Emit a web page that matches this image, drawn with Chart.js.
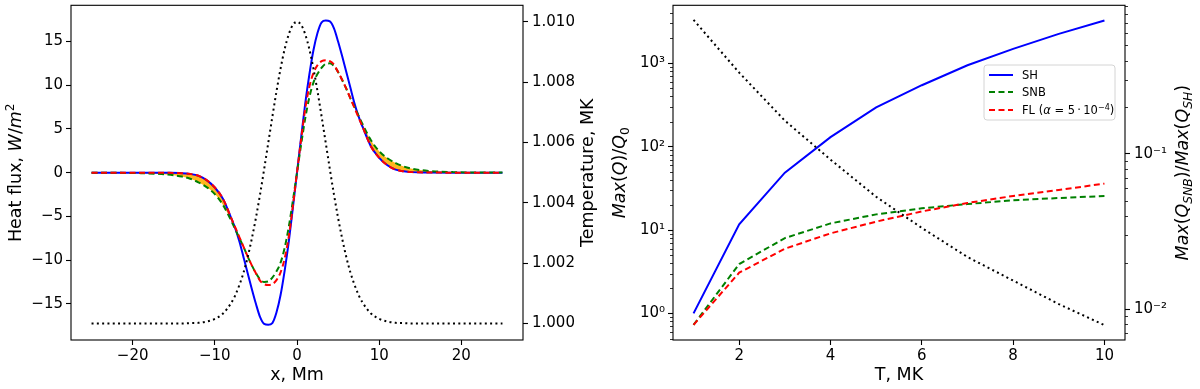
<!DOCTYPE html>
<html>
<head>
<meta charset="utf-8">
<script src="https://cdn.jsdelivr.net/npm/chart.js@4.4.1/dist/chart.umd.min.js"></script>
<style>
html, body { margin: 0; padding: 0; background: #fff; }
#wrap { position: relative; width: 1200px; height: 389px; }
canvas { position: absolute; top: 0; }
#fluxChart { left: 0; }
#ratioChart { left: 600px; }
</style>
</head>
<body>
<div id="wrap">
<canvas id="fluxChart" width="600" height="389"></canvas>
<canvas id="ratioChart" width="600" height="389"></canvas>
</div>
<script>
// Left panel: heat flux profiles along x (Mm)
const xMm = [-25, -22, -19, -16, -14, -13, -12, -11, -10, -9, -8, -7.5, -7, -6.5, -6, -5.5, -5, -4.5, -4, -3.5, -3, -2.5, -2, -1.5, -1, -0.5,
    0, 0.5, 1, 1.5, 2, 2.5, 3, 3.5, 4, 4.5, 5, 5.5, 6, 6.5, 7, 7.5, 8, 9, 10, 11, 12, 13, 14, 16, 19, 22, 25];
const shFlux = [0, 0, 0, -0.02, -0.06, -0.15, -0.35, -0.85, -1.7, -3.0, -5.2, -6.4, -7.9, -9.7, -11.5, -13.3, -15.0, -16.5, -17.3, -17.4, -17.2, -16.0, -14.0, -11.2, -7.9, -4.0,
    0, 4.0, 7.9, 11.2, 14.0, 16.0, 17.2, 17.4, 17.3, 16.5, 15.0, 13.3, 11.5, 9.7, 7.9, 6.4, 5.2, 3.0, 1.7, 0.85, 0.35, 0.15, 0.06, 0.02, 0, 0, 0];
const snbFlux = [-0.01, -0.02, -0.06, -0.2, -0.45, -0.7, -1.1, -1.65, -2.45, -3.7, -5.5, -6.5, -7.5, -8.5, -9.6, -10.6, -11.5, -12.2, -12.5, -12.45, -12.0, -11.3, -10.3, -8.6, -6.2, -3.2,
    0, 3.2, 6.2, 8.6, 10.3, 11.3, 12.0, 12.45, 12.5, 12.2, 11.5, 10.6, 9.6, 8.5, 7.5, 6.5, 5.5, 3.7, 2.45, 1.65, 1.1, 0.7, 0.45, 0.2, 0.06, 0.02, 0.01];
const flFlux = [0, 0, 0, -0.02, -0.06, -0.15, -0.35, -0.85, -1.7, -3.0, -5.2, -6.3, -7.4, -8.5, -9.6, -10.6, -11.5, -12.35, -12.75, -12.85, -12.75, -12.3, -11.4, -9.8, -7.3, -3.8,
    0, 3.8, 7.3, 9.8, 11.4, 12.3, 12.75, 12.85, 12.75, 12.35, 11.5, 10.6, 9.6, 8.5, 7.4, 6.3, 5.2, 3.0, 1.7, 0.85, 0.35, 0.15, 0.06, 0.02, 0, 0, 0];
const tempMK = [1.0, 1.0, 1.0, 1.0, 1.0, 1.00001, 1.00002, 1.00006, 1.00015, 1.00033, 1.00068, 1.00094, 1.00128, 1.00169, 1.0022, 1.00281, 1.0035, 1.00427, 1.00511, 1.00598, 1.00685, 1.00769, 1.00845, 1.0091, 1.00959, 1.0099,
    1.01, 1.0099, 1.00959, 1.0091, 1.00845, 1.00769, 1.00685, 1.00598, 1.00511, 1.00427, 1.0035, 1.00281, 1.0022, 1.00169, 1.00128, 1.00094, 1.00068, 1.00033, 1.00015, 1.00006, 1.00002, 1.00001, 1.0, 1.0, 1.0, 1.0, 1.0];

// Right panel: maxima versus temperature
const tGrid = [1, 2, 3, 4, 5, 6, 7, 8, 9, 10];
const maxSH = [1.0, 11.7, 48.7, 130, 296, 545, 946, 1486, 2249, 3251];
const maxSNB = [0.73, 3.91, 8.0, 12.0, 15.4, 18.2, 20.5, 22.7, 24.2, 25.6];
const maxFL = [0.73, 3.08, 5.97, 9.12, 12.6, 16.7, 21.1, 25.6, 30.2, 36.0];
const ratioSNB = [0.73, 0.334, 0.164, 0.092, 0.053, 0.0334, 0.0217, 0.0153, 0.0108, 0.0079];

const seriesNames = ['SH', 'SNB', 'FL'];

const FAMILY = '"DejaVu Sans", sans-serif';
const TICK_SIZE = 15;
const LABEL_SIZE = 17.5;
const DASH = [6, 3.5];
const DOT = [2, 3.3];

const SUP = { '-': '\u207B', '0': '\u2070', '1': '\u00B9', '2': '\u00B2', '3': '\u00B3', '4': '\u2074',
    '5': '\u2075', '6': '\u2076', '7': '\u2077', '8': '\u2078', '9': '\u2079' };
const minusLabel = v => (v < 0 ? '\u2212' + Math.abs(v) : String(v));
const isPow10 = v => Math.abs(Math.log10(v) - Math.round(Math.log10(v))) < 1e-6;
const powLabel = v => '10' + String(Math.round(Math.log10(v))).split('').map(c => SUP[c]).join('');

// rich text: parts are [text, kind] with kind n / i / sup / sub / subi
function partFont(kind, size) {
    const small = kind === 'sup' || kind === 'sub' || kind === 'subi';
    const s = small ? size * 0.7 : size;
    const style = (kind === 'i' || kind === 'subi') ? 'italic ' : '';
    return style + s.toFixed(2) + 'px ' + FAMILY;
}
function partShift(kind, size) {
    if (kind === 'sup') return -0.38 * size;
    if (kind === 'sub' || kind === 'subi') return 0.2 * size;
    return 0;
}
function drawRich(ctx, parts, x, y, size, rotate, align) {
    ctx.save();
    ctx.translate(x, y);
    if (rotate) ctx.rotate(-Math.PI / 2);
    ctx.textBaseline = 'alphabetic';
    ctx.textAlign = 'left';
    let total = 0;
    parts.forEach(p => { ctx.font = partFont(p[1], size); total += ctx.measureText(p[0]).width; });
    let cx = align === 'left' ? 0 : -total / 2;
    parts.forEach(p => {
        ctx.font = partFont(p[1], size);
        ctx.fillText(p[0], cx, partShift(p[1], size));
        cx += ctx.measureText(p[0]).width;
    });
    ctx.restore();
}

function drawMinorTicks(ctx, scale) {
    const lo = Math.floor(Math.log10(scale.min));
    const hi = Math.ceil(Math.log10(scale.max));
    const onLeft = scale.position === 'left';
    const x0 = onLeft ? scale.right : scale.left;
    ctx.beginPath();
    for (let d = lo; d <= hi; d++) {
        for (let k = 2; k <= 9; k++) {
            const v = k * Math.pow(10, d);
            if (v < scale.min || v > scale.max) continue;
            const py = Math.round(scale.getPixelForValue(v)) + 0.5;
            ctx.moveTo(x0, py);
            ctx.lineTo(onLeft ? x0 - 3 : x0 + 3, py);
        }
    }
    ctx.strokeStyle = '#000';
    ctx.lineWidth = 0.8;
    ctx.stroke();
}

function drawLegend(ctx, lg) {
    ctx.beginPath();
    ctx.roundRect(lg.x, lg.y, lg.w, lg.h, 3);
    ctx.fillStyle = 'rgba(255,255,255,0.8)';
    ctx.fill();
    ctx.strokeStyle = '#d4d4d4';
    ctx.lineWidth = 1;
    ctx.stroke();
    lg.items.forEach((it, i) => {
        const ry = lg.rows[i];
        ctx.beginPath();
        ctx.setLineDash(it.dash);
        ctx.strokeStyle = it.color;
        ctx.lineWidth = 2;
        ctx.moveTo(lg.x + 5, ry);
        ctx.lineTo(lg.x + 29, ry);
        ctx.stroke();
        ctx.setLineDash([]);
        ctx.fillStyle = '#000';
        drawRich(ctx, it.parts, lg.x + 38, ry + 4, 11.5, false, 'left');
    });
}

function makeDecor(cfg) {
    return {
        id: 'decor',
        afterDraw(chart) {
            const ctx = chart.ctx;
            const a = chart.chartArea;
            ctx.save();
            ctx.strokeStyle = '#000';
            ctx.lineWidth = 1.1;
            ctx.strokeRect(a.left, a.top, a.right - a.left, a.bottom - a.top);
            (cfg.logAxes || []).forEach(id => drawMinorTicks(ctx, chart.scales[id]));
            ctx.fillStyle = '#000';
            cfg.titles.forEach(t => drawRich(ctx, t.parts, t.x, t.y, LABEL_SIZE, t.rotate, 'center'));
            if (cfg.legend) drawLegend(ctx, cfg.legend);
            ctx.restore();
        }
    };
}

function fixSize(w, h) {
    return s => {
        if (w !== null) s.width = w;
        if (h !== null) s.height = h;
        s.paddingTop = 0; s.paddingBottom = 0; s.paddingLeft = 0; s.paddingRight = 0;
    };
}
const gridOpts = () => ({ drawOnChartArea: false, drawTicks: true, tickLength: 5, tickColor: '#000', tickWidth: 1.1 });
const tickBase = (extra) => Object.assign({ color: '#000', font: { family: FAMILY, size: TICK_SIZE }, maxRotation: 0, autoSkip: false }, extra);
const keepPow10 = s => { s.ticks = s.ticks.filter(t => isPow10(t.value)); };

const pts = (xs, ys) => xs.map((x, i) => ({ x: x, y: ys[i] }));

// band shown where the SNB flux is larger in magnitude than the flux-limited one
const bandEdge = snbFlux.map((g, i) => (Math.abs(g) > Math.abs(flFlux[i]) ? g : flFlux[i]));

const lineStyle = { pointRadius: 0, borderWidth: 2, cubicInterpolationMode: 'monotone', fill: false };

new Chart(document.getElementById('fluxChart'), {
    type: 'line',
    data: {
        datasets: [
            Object.assign({ label: seriesNames[0], data: pts(xMm, shFlux), borderColor: '#0000ff', order: 4 }, lineStyle),
            Object.assign({ label: seriesNames[1], data: pts(xMm, snbFlux), borderColor: '#008000', borderDash: DASH, order: 3 }, lineStyle),
            Object.assign({ label: seriesNames[2], data: pts(xMm, flFlux), borderColor: '#ff0000', borderDash: DASH, order: 2 }, lineStyle),
            Object.assign({}, lineStyle, { label: 'band', data: pts(xMm, bandEdge), borderWidth: 0, borderColor: 'rgba(0,0,0,0)',
                backgroundColor: 'rgb(255,182,30)', fill: 2, order: 5 }),
            Object.assign({ label: 'T', data: pts(xMm, tempMK), borderColor: '#000', borderDash: DOT, yAxisID: 'y2', order: 1 }, lineStyle)
        ]
    },
    options: {
        responsive: false,
        animation: false,
        devicePixelRatio: 1,
        layout: { padding: { top: 5.3, left: 0, right: 0, bottom: 0 } },
        plugins: { legend: { display: false }, tooltip: { enabled: false } },
        scales: {
            x: {
                type: 'linear', position: 'bottom', min: -27.5, max: 27.5,
                afterFit: fixSize(null, 49),
                ticks: tickBase({ stepSize: 10, includeBounds: false, padding: 2, callback: v => minusLabel(v) }),
                grid: gridOpts(), border: { display: false }
            },
            y: {
                type: 'linear', position: 'left', min: -19.14, max: 19.14,
                afterFit: fixSize(71, null),
                ticks: tickBase({ stepSize: 5, includeBounds: false, padding: 3, callback: v => minusLabel(v) }),
                grid: gridOpts(), border: { display: false }
            },
            y2: {
                type: 'linear', position: 'right', min: 0.99945, max: 1.01055,
                afterFit: fixSize(77, null),
                ticks: tickBase({ stepSize: 0.002, includeBounds: false, padding: 4, callback: v => v.toFixed(3) }),
                grid: gridOpts(), border: { display: false }
            }
        }
    },
    plugins: [makeDecor({
        titles: [
            { parts: [['x, Mm', 'n']], x: 297, y: 379.5, rotate: false },
            { parts: [['Heat flux, ', 'n'], ['W', 'i'], ['/', 'n'], ['m', 'i'], ['2', 'sup']], x: 21, y: 172.7, rotate: true },
            { parts: [['Temperature, MK', 'n']], x: 593, y: 172.7, rotate: true }
        ]
    })]
});

new Chart(document.getElementById('ratioChart'), {
    type: 'line',
    data: {
        datasets: [
            { label: seriesNames[0], data: pts(tGrid, maxSH), borderColor: '#0000ff', borderWidth: 2, pointRadius: 0, order: 4 },
            { label: seriesNames[1], data: pts(tGrid, maxSNB), borderColor: '#008000', borderDash: DASH, borderWidth: 2, pointRadius: 0, order: 3 },
            { label: seriesNames[2], data: pts(tGrid, maxFL), borderColor: '#ff0000', borderDash: DASH, borderWidth: 2, pointRadius: 0, order: 2 },
            { label: 'ratio', data: pts(tGrid, ratioSNB), borderColor: '#000', borderDash: DOT, borderWidth: 2, pointRadius: 0, yAxisID: 'y2', order: 1 }
        ]
    },
    options: {
        responsive: false,
        animation: false,
        devicePixelRatio: 1,
        layout: { padding: { top: 5.3, left: 0, right: 0, bottom: 0 } },
        plugins: { legend: { display: false }, tooltip: { enabled: false } },
        scales: {
            x: {
                type: 'linear', position: 'bottom', min: 0.55, max: 10.45,
                afterFit: fixSize(null, 49),
                ticks: tickBase({ stepSize: 2, includeBounds: false, padding: 2 }),
                grid: gridOpts(), border: { display: false }
            },
            y: {
                type: 'logarithmic', position: 'left', min: 0.48, max: 4950,
                afterFit: fixSize(73, null),
                afterBuildTicks: keepPow10,
                ticks: tickBase({ padding: 3, callback: v => powLabel(v) }),
                grid: gridOpts(), border: { display: false }
            },
            y2: {
                type: 'logarithmic', position: 'right', min: 0.00634, max: 0.907,
                afterFit: fixSize(75, null),
                afterBuildTicks: keepPow10,
                ticks: tickBase({ padding: 4, callback: v => powLabel(v) }),
                grid: gridOpts(), border: { display: false }
            }
        }
    },
    plugins: [makeDecor({
        logAxes: ['y', 'y2'],
        titles: [
            { parts: [['T, MK', 'n']], x: 299, y: 379.5, rotate: false },
            { parts: [['Max', 'i'], ['(', 'n'], ['Q', 'i'], [')/', 'n'], ['Q', 'i'], ['0', 'sub']], x: 25, y: 172.7, rotate: true },
            { parts: [['Max', 'i'], ['(', 'n'], ['Q', 'i'], ['SNB', 'subi'], [')/', 'n'], ['Max', 'i'], ['(', 'n'], ['Q', 'i'], ['SH', 'subi'], [')', 'n']],
                x: 588, y: 172.7, rotate: true }
        ],
        legend: {
            x: 384, y: 65, w: 131, h: 55, rows: [75, 92, 110],
            items: [
                { color: '#0000ff', dash: [], parts: [[seriesNames[0], 'n']] },
                { color: '#008000', dash: DASH, parts: [[seriesNames[1], 'n']] },
                { color: '#ff0000', dash: DASH, parts: [[seriesNames[2] + ' (', 'n'], ['\u03B1', 'i'], [' = 5\u2009\u00B7\u200910', 'n'], ['\u22124', 'sup'], [')', 'n']] }
            ]
        }
    })]
});
</script>
</body>
</html>
